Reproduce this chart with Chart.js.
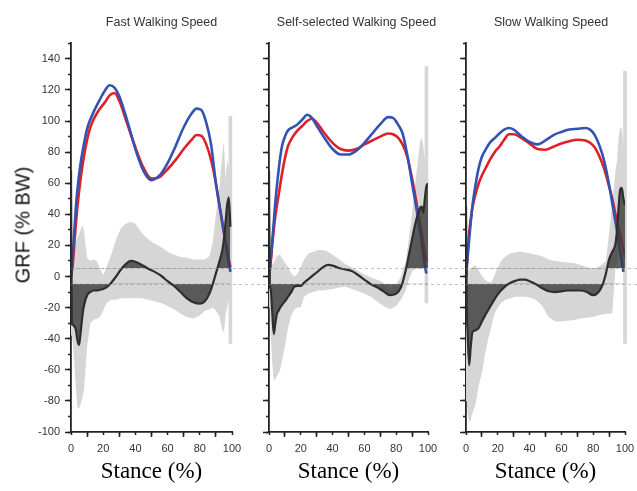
<!DOCTYPE html>
<html>
<head>
<meta charset="utf-8">
<script src="https://cdn.jsdelivr.net/npm/chart.js@4.4.0/dist/chart.umd.min.js"></script>
<style>
  body { margin: 0; background: #fff; width: 637px; height: 491px; overflow: hidden; position: relative; }
  canvas { position: absolute; top: 0; }
  #ytitle { position: absolute; left: 23px; top: 225px; transform: translate(-50%, -50%) rotate(-90deg);
            font: 20px "Liberation Sans", Arial, sans-serif; color: #111; white-space: nowrap; }
</style>
</head>
<body>
<canvas id="fast" width="323" height="491" style="left:0px"></canvas>
<canvas id="self" width="233" height="491" style="left:240px"></canvas>
<canvas id="slow" width="218" height="491" style="left:442px"></canvas>
<div id="ytitle">GRF (% BW)</div>
<script>
// stance (%) grids
const stanceCurve = [0, 1, 2, 3, 4, 6, 8, 10, 12, 15, 18, 21, 24, 27, 30, 35, 40, 45, 50, 55, 60, 65, 70, 75, 78, 81, 84, 87, 90, 92, 94, 96, 98, 99, 100];
const stanceSpm = [0, 0.5, 1, 2, 3, 4, 5, 6, 7, 8, 10, 12, 14, 16, 18, 20, 22, 25, 28, 31, 34, 37, 40, 44, 48, 52, 56, 60, 64, 68, 72, 76, 80, 83, 86, 88, 90, 92, 94, 95, 96, 97, 98, 99, 100];

const panelTitles = ['Fast Walking Speed', 'Self-selected Walking Speed', 'Slow Walking Speed'];

// GRF curves (% BW)
const fastBlue = [0, 12, 28, 44, 56, 73, 85, 95, 101, 108, 114, 119.5, 123, 121.5, 116, 100, 82, 68, 62, 65, 73, 84, 96, 105, 108, 107, 99, 85, 60, 47, 35, 22, 9, 3, null];
const fastRed = [0, 7, 20, 33, 45, 63, 77, 88, 96, 103, 108, 112, 116.5, 118, 113, 98, 83, 70, 63, 64, 69, 75, 82, 88, 91, 90.5, 85, 75, 60, 47, 34, 22, 11, 6, null];
const selfBlue = [0, 10, 22, 35, 48, 68, 83, 90, 94, 96, 98, 101, 104, 102, 97, 89, 82, 78.5, 78.5, 81, 86, 92, 98, 102.5, 102, 98, 92, 78, 60, 48, 36, 22, 7, 2, null];
const selfRed = [0, 8, 20, 30, 39, 52, 65, 76, 84, 90, 94, 97, 100, 101.5, 99, 92, 86, 82, 81, 82, 85, 87.5, 90, 92, 91.5, 89.5, 85, 77, 63, 52, 40, 28, 15, 10, null];
const slowBlue = [0, 12, 24, 35, 45, 59, 70, 77, 81, 86, 89, 92, 94.5, 95.5, 94.5, 90, 86.5, 85, 87.5, 91, 93, 94.5, 95, 95.5, 94.5, 91, 84, 74, 59, 47, 35, 23, 10, 3, null];
const slowRed = [0, 14, 28, 37, 44, 53, 60, 65, 69, 75, 80, 83.5, 88, 91.5, 91.5, 89, 85.5, 82, 81.5, 83.5, 85.5, 87, 88, 87.5, 86, 83, 77, 69, 58, 50, 40, 31, 22, 17, 12];

// SPM curves and their grey bands
const fastDiff = [68, -30, -31, -32, -34, -41, -44, -36, -26, -19, -12, -10, -9, -9, -8.5, -8, -7, -4, 0, 4.5, 8, 10, 9.5, 7.5, 5, 3, 0.5, -3, -6, -10, -14, -16.5, -17.5, -16, -11, -5, 2, 9, 17, 24, 35, 46, 51, 32, null];
const fastHi = [0, 5, 12, 18, 22, 25, 27, 30, 33, 30, 12, 10, 11, 10, 5, 1, 6, 14, 24, 31, 34, 35, 34, 28, 24, 21, 19, 16, 14, 12.5, 12, 11, 11, 11, 13, 22, 40, 55, 80, 87, 62, 75, 70, 50, null];
const fastLo = [-35, -38, -42, -55, -72, -84, -85, -82, -78, -74, -45, -30, -28, -27, -26, -22, -17, -15, -15, -14, -14, -14, -14, -14, -15, -16, -17, -19, -21, -24, -26, -27, -25, -22, -21, -20, -22, -25, -34, -36, -25, -20, -15, -10, null];
const selfDiff = [68, -5, -8, -22, -37, -30, -24, -22, -20, -18.5, -16, -13, -10, -6.5, -6, -6, -4, -1.5, 1, 3.5, 6, 7.5, 7, 5.5, 4.5, 3.5, 1, -2, -5, -7, -9.5, -12, -11, -7, 4, 14, 24, 34, 41, 44, 45, 41, 50, 58, 60];
const selfHi = [0, 3, 5, 8, 9, 11, 13, 14, 14, 12, 9, 6, 2, 0, 2, 6, 11, 15, 16, 17, 17, 16, 14, 11, 8, 6, 3.5, 1.5, -0.5, -2, -4, -8, -5, 0, 10, 25, 40, 60, 78, 87, 89, 84, 75, 62, 60];
const selfLo = [-5, -20, -35, -55, -67, -66, -64, -62, -60, -55, -45, -33, -25, -21, -20, -20, -13, -11, -10, -9, -9, -8.5, -8, -7, -6.5, -8, -9.5, -11, -13, -16, -19, -21, -19, -15, -9, -2, 3, 5, 5, 5, 5, 5, 5, 5, 5];
const slowDiff = [45, -20, -35, -57, -45, -36, -35, -34.5, -34, -33, -29, -25, -21.5, -18, -14.5, -11.5, -9, -6, -4, -2.8, -2, -2, -3, -5, -7.5, -9.5, -10, -9.5, -9, -9, -9, -10, -12, -10.5, -5, 2, 11, 16, 21, 30, 45, 56, 57, 50, 46];
const slowHi = [0, 2, 3, 4, 5, 6, 7, 7, 6, 4, 0.5, -2, -3.5, -3.5, 1, 6, 10, 13, 15, 15.5, 16, 15.5, 15, 14, 13, 11, 10, 9.5, 9, 8.5, 7.5, 6, 5, 6, 8, 10, 28, 47, 68, 75, 90, 96, 95, 85, 60];
const slowLo = [-60, -80, -88, -94, -92, -88, -85, -82, -76, -70, -62, -50, -40, -32, -24, -20, -17, -15, -14, -13, -13, -13, -13.5, -15, -19, -26, -29, -29, -28.5, -28, -27, -26.5, -26, -25, -24.5, -24, -24, -23.5, 5, 10, 15, 20, 20, 20, 20];

// thin grey spike at the end of each band
const spikeX = [99, 99, 100];
const spikeLo = [-43, -17, -43];
const spikeHi = [103, 135, 132];

// critical thresholds and where the upper cluster starts
const threshUpper = 5.3;
const threshLower = -4.6;
const upperFrom = [0, 85, 0];

const FONT = '"Liberation Sans", Arial, sans-serif';
const BLUE = 'rgb(52,82,178)';
const RED = 'rgb(222,32,40)';
const DARK = '#2e2e2e';
const DARKFILL = 'rgba(58,58,58,0.8)';
const BAND = 'rgb(214,214,214)';
const NONE = 'rgba(0,0,0,0)';

function pts(xs, ys) {
    return xs.map((x, i) => ({ x: x, y: ys[i] }));
}

// dashed threshold lines, running on into the gap after the panel
const thresholdLines = {
    id: 'thresholdLines',
    afterDatasetsDraw(chart) {
        const { ctx, chartArea, scales } = chart;
        const end = Math.min(chart.width, chartArea.right + 38);
        ctx.save();
        ctx.strokeStyle = 'rgba(140,140,140,0.55)';
        ctx.lineWidth = 1;
        ctx.setLineDash([3, 3]);
        [threshUpper, threshLower].forEach(t => {
            const y = Math.round(scales.y.getPixelForValue(t)) + 0.5;
            ctx.beginPath();
            ctx.moveTo(chartArea.left, y);
            ctx.lineTo(end, y);
            ctx.stroke();
        });
        ctx.restore();
    }
};

function makePanel(id, idx, blue, red, diff, hi, lo, yWidth, padRight) {
    const ctx = document.getElementById(id).getContext('2d');
    const upper = diff.map((v, i) => stanceSpm[i] >= upperFrom[idx] ? v : null);
    const tickFont = { family: FONT, size: 11 };

    return new Chart(ctx, {
        type: 'line',
        data: {
            datasets: [
                {
                    label: 'SPM', data: pts(stanceSpm, diff), borderColor: DARK, borderWidth: 2.2,
                    cubicInterpolationMode: 'monotone',
                    fill: { target: { value: threshLower }, above: NONE, below: DARKFILL }, order: 0
                },
                {
                    label: 'cluster', data: pts(stanceSpm, upper), borderColor: NONE, borderWidth: 0,
                    cubicInterpolationMode: 'monotone',
                    fill: { target: { value: threshUpper }, above: DARKFILL, below: NONE }, order: 1
                },
                { label: 'band hi', data: pts(stanceSpm, hi), borderColor: NONE, borderWidth: 0, tension: 0, fill: '+1', backgroundColor: BAND, order: 3 },
                { label: 'band lo', data: pts(stanceSpm, lo), borderColor: NONE, borderWidth: 0, tension: 0, fill: false, order: 3 },
                {
                    type: 'bar', label: 'spike', data: [{ x: spikeX[idx], y: [spikeLo[idx], spikeHi[idx]] }],
                    backgroundColor: BAND, barThickness: 3, clip: false, order: 3
                },
                { label: 'blue', data: pts(stanceCurve, blue), borderColor: BLUE, borderWidth: 2.6, cubicInterpolationMode: 'monotone', fill: false, order: 2 },
                { label: 'red', data: pts(stanceCurve, red), borderColor: RED, borderWidth: 2.6, cubicInterpolationMode: 'monotone', fill: false, order: 2 }
            ]
        },
        options: {
            responsive: false,
            animation: false,
            devicePixelRatio: 1,
            layout: { padding: 0 },
            elements: { point: { radius: 0 } },
            plugins: {
                legend: { display: false },
                tooltip: { enabled: false },
                title: {
                    display: true, text: panelTitles[idx], color: '#333',
                    font: { family: FONT, size: 12.5, weight: 'normal' },
                    padding: { top: 15, bottom: 13.3 }
                }
            },
            scales: {
                x: {
                    type: 'linear', position: 'bottom', min: 0, max: 100, offset: false, weight: 1,
                    ticks: { stepSize: 20, padding: 5, color: '#333', font: tickFont, maxRotation: 0, autoSkip: false },
                    grid: { drawOnChartArea: false, tickLength: 5, tickColor: '#222', tickWidth: 1.5 },
                    border: { color: '#222', width: 1.8 },
                    title: {
                        display: true, text: 'Stance (%)', color: '#000',
                        font: { family: '"Liberation Serif", "Times New Roman", serif', size: 23 },
                        padding: { top: 0, bottom: 5 }
                    },
                    afterFit: s => { s.height = 59; }
                },
                xMinor: {
                    type: 'linear', position: 'bottom', min: 0, max: 100, offset: false, weight: 0,
                    ticks: { stepSize: 10, display: false },
                    grid: { drawOnChartArea: false, tickLength: 3, tickColor: '#222', tickWidth: 1.5 },
                    border: { display: false },
                    afterFit: s => { s.height = 0; }
                },
                y: {
                    type: 'linear', position: 'left', min: -100, max: 150, weight: 1,
                    ticks: { stepSize: 20, includeBounds: false, display: idx === 0, padding: 5, color: '#333', font: tickFont, autoSkip: false },
                    grid: { drawOnChartArea: false, tickLength: 6, tickColor: '#222', tickWidth: 1.5 },
                    border: { color: '#222', width: 1.8 },
                    afterFit: s => { s.width = yWidth; }
                },
                yMinor: {
                    type: 'linear', position: 'left', min: -100, max: 150, weight: 0,
                    ticks: { stepSize: 10, display: false },
                    grid: { drawOnChartArea: false, tickLength: 3, tickColor: '#222', tickWidth: 1.5 },
                    border: { display: false },
                    afterFit: s => { s.width = 0; }
                },
                // empty right-hand space so the title centres over the whole canvas
                gapRight: {
                    type: 'linear', position: 'right', min: 0, max: 1,
                    ticks: { display: false },
                    grid: { display: false },
                    border: { display: false },
                    afterFit: s => { s.width = padRight; }
                }
            }
        },
        plugins: [thresholdLines]
    });
}

makePanel('fast', 0, fastBlue, fastRed, fastDiff, fastHi, fastLo, 71, 91);
makePanel('self', 1, selfBlue, selfRed, selfDiff, selfHi, selfLo, 29, 45);
makePanel('slow', 2, slowBlue, slowRed, slowDiff, slowHi, slowLo, 24, 35);
</script>
</body>
</html>
